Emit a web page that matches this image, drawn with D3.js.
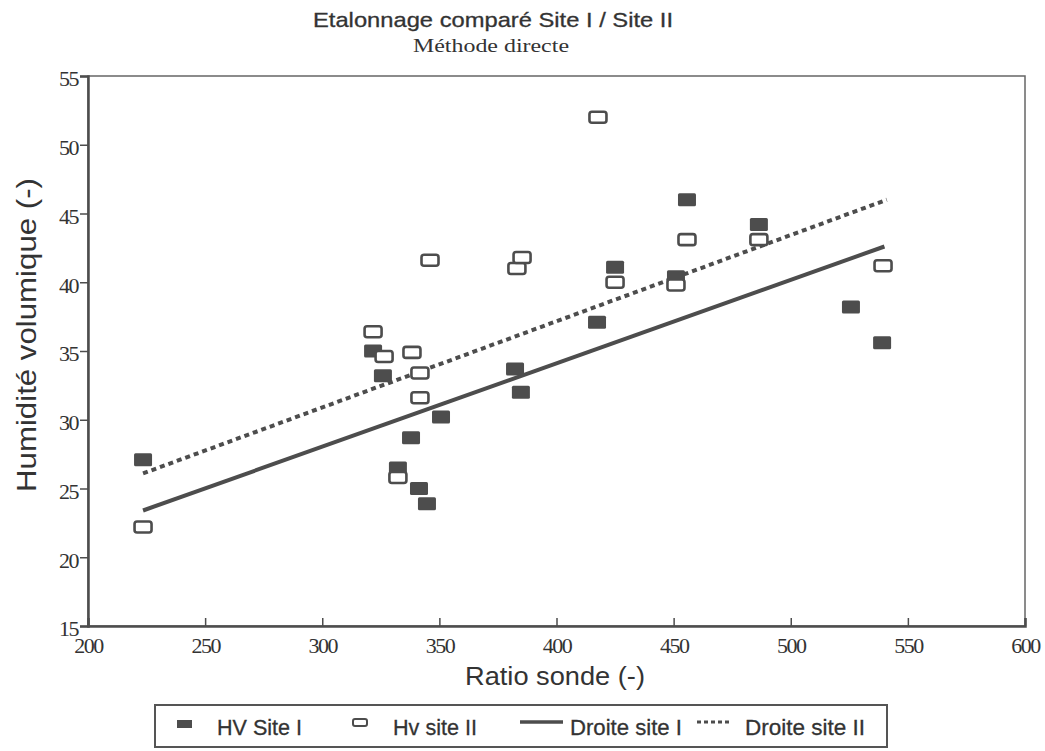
<!DOCTYPE html>
<html><head><meta charset="utf-8">
<script src="https://cdn.jsdelivr.net/npm/d3@7"></script>
<style>body{margin:0;background:#fff}svg{display:block}</style>
</head><body>
<script>
const title = "Etalonnage comparé Site I / Site II";
const subtitle = "Méthode directe";
const xLabel = "Ratio sonde (-)";
const yLabel = "Humidité volumique (-)";
const xTicks = [200,250,300,350,400,450,500,550,600];
const yTicks = [15,20,25,30,35,40,45,50,55];

const site1X = [223.5,321.7,325.9,337.9,332.3,341.3,344.7,350.7,382.3,384.8,417.3,425.0,451.0,455.7,486.4,525.7,539.0];
const site1Y = [27.1,35.0,33.2,28.7,26.5,25.0,23.9,30.2,33.7,32.0,37.1,41.1,40.4,46.0,44.2,38.2,35.6];
const site2X = [223.5,321.7,326.4,338.3,341.7,341.7,332.3,346.0,383.1,385.3,417.7,425.0,451.0,455.7,486.4,539.4];
const site2Y = [22.2,36.4,34.6,34.9,33.4,31.6,25.8,41.6,41.0,41.8,52.0,40.0,39.8,43.1,43.1,41.2];
const droite1X = [223.5,540];
const droite1Y = [23.4,42.6];
const droite2X = [223.5,541];
const droite2Y = [26.1,46.0];
const legendLabels = ["HV Site I","Hv site II","Droite site I","Droite site II"];

const W=1045,H=751;
const ink="#4d4d4d", txt="#333";
const sans="'Liberation Sans',Arial,sans-serif";
const serif="'Liberation Serif','Times New Roman',serif";
const svg=d3.select("body").append("svg").attr("width",W).attr("height",H);
const L=88,R=1025,T=76,B=626;
const x=d3.scaleLinear().domain([200,600]).range([L,R]);
const y=d3.scaleLinear().domain([15,55]).range([B,T]);

// titles
svg.append("text").attr("x",493).attr("y",27).attr("text-anchor","middle")
  .attr("font-family",sans).attr("font-size",21).attr("fill",txt).attr("stroke",txt).attr("stroke-width",0.3)
  .attr("textLength",360).attr("lengthAdjust","spacingAndGlyphs").text(title);
svg.append("text").attr("x",491).attr("y",52).attr("text-anchor","middle")
  .attr("font-family",serif).attr("font-size",19).attr("fill",txt)
  .attr("textLength",156).attr("lengthAdjust","spacingAndGlyphs").text(subtitle);

// frame
svg.append("rect").attr("x",L).attr("y",T).attr("width",R-L).attr("height",B-T)
  .attr("fill","none").attr("stroke","#666").attr("stroke-width",1.5);

// axes
const yAxis=d3.axisLeft(y).tickValues(yTicks).tickSize(8).tickFormat(d3.format("d"));
const gy=svg.append("g").attr("transform",`translate(${L},0)`).call(yAxis);
gy.select(".domain").attr("stroke",ink).attr("stroke-width",2.5);
gy.selectAll(".tick line").attr("stroke",ink).attr("stroke-width",1.5);
gy.selectAll(".tick text").attr("font-family",serif).attr("font-size",22).attr("fill",txt)
  .attr("x",-10).attr("dy","0.45em").attr("letter-spacing",-1.5);

const xAxis=d3.axisBottom(x).tickValues(xTicks).tickSize(-8).tickFormat(d3.format("d"));
const gx=svg.append("g").attr("transform",`translate(0,${B})`).call(xAxis);
gx.select(".domain").attr("stroke",ink).attr("stroke-width",2.5);
gx.selectAll(".tick line").attr("stroke",ink).attr("stroke-width",1.5);
gx.selectAll(".tick text").attr("font-family",serif).attr("font-size",22).attr("fill",txt)
  .attr("y",11).attr("dy","0.71em").attr("letter-spacing",-1.5);

svg.append("text").attr("x",555).attr("y",685).attr("text-anchor","middle")
  .attr("font-family",sans).attr("font-size",26).attr("fill",txt)
  .attr("textLength",180).attr("lengthAdjust","spacingAndGlyphs").text(xLabel);
svg.append("text").attr("transform","translate(36,335) rotate(-90)").attr("text-anchor","middle")
  .attr("font-family",sans).attr("font-size",27).attr("fill",txt)
  .attr("textLength",314).attr("lengthAdjust","spacingAndGlyphs").text(yLabel);

// lines
const line=d3.line().x(d=>x(d[0])).y(d=>y(d[1]));
svg.append("path").datum(d3.zip(droite1X,droite1Y)).attr("d",line)
  .attr("fill","none").attr("stroke",ink).attr("stroke-width",4);
svg.append("path").datum(d3.zip(droite2X,droite2Y)).attr("d",line)
  .attr("fill","none").attr("stroke",ink).attr("stroke-width",4).attr("stroke-dasharray","5,4");

// markers
const mw=18,mh=13;
svg.append("g").selectAll("rect").data(d3.zip(site1X,site1Y)).join("rect")
  .attr("x",d=>x(d[0])-mw/2).attr("y",d=>y(d[1])-mh/2).attr("width",mw).attr("height",mh)
  .attr("rx",1.5).attr("fill",ink);
const ow=17, oh=11;
svg.append("g").selectAll("rect").data(d3.zip(site2X,site2Y)).join("rect")
  .attr("x",d=>x(d[0])-ow/2).attr("y",d=>y(d[1])-oh/2).attr("width",ow).attr("height",oh)
  .attr("rx",2.5).attr("fill","#fff").attr("stroke",ink).attr("stroke-width",2.6);

// legend
const lg=svg.append("g");
lg.append("rect").attr("x",155).attr("y",705).attr("width",732).attr("height",42)
  .attr("fill","#fff").attr("stroke","#555").attr("stroke-width",2);
const ly=723;
lg.append("rect").attr("x",177).attr("y",ly-3).attr("width",15).attr("height",8).attr("fill",ink);
lg.append("rect").attr("x",353).attr("y",ly-4).attr("width",14).attr("height",7).attr("rx",2)
  .attr("fill","#fff").attr("stroke",ink).attr("stroke-width",2);
lg.append("line").attr("x1",520).attr("x2",563).attr("y1",ly-1).attr("y2",ly-1).attr("stroke",ink).attr("stroke-width",3.5);
lg.append("line").attr("x1",697).attr("x2",731).attr("y1",ly-1).attr("y2",ly-1).attr("stroke",ink).attr("stroke-width",3).attr("stroke-dasharray","4,3");
const lx=[217,393,570,745], lw=[85,84,112,120];
lg.selectAll("text").data(legendLabels).join("text").attr("x",(d,i)=>lx[i]).attr("y",735)
  .attr("font-family",sans).attr("font-size",22).attr("fill",txt).attr("stroke",txt).attr("stroke-width",0.3)
  .attr("textLength",(d,i)=>lw[i]).attr("lengthAdjust","spacingAndGlyphs").text(d=>d);
</script>
</body></html>
